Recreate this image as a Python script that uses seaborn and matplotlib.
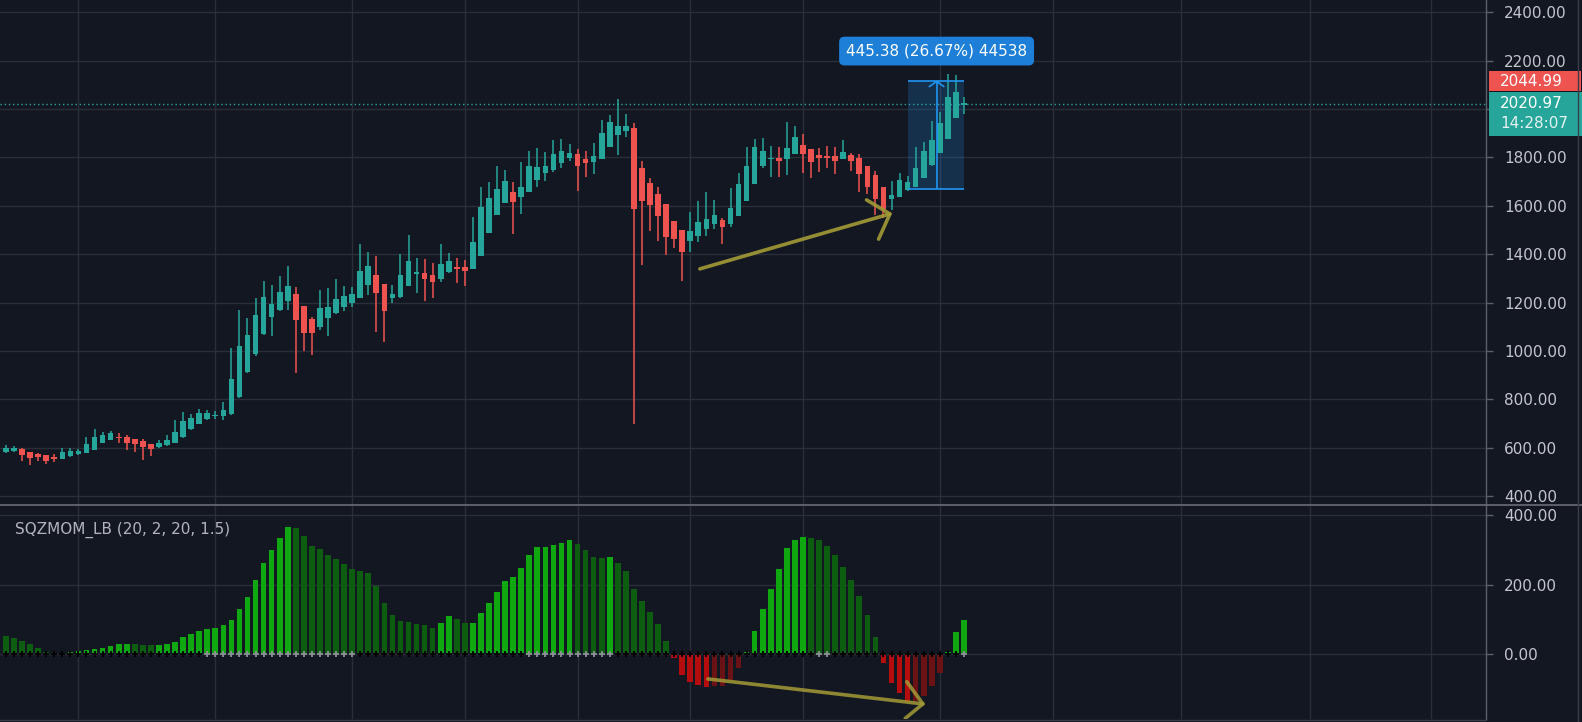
import numpy as np
import pandas as pd
import matplotlib
matplotlib.use("Agg")
import matplotlib.pyplot as plt
from matplotlib.lines import Line2D
from matplotlib.patches import Rectangle
import seaborn as sns

# ---------------- data ----------------
opens = [584, 588, 596, 582, 574, 569, 560, 555, 566, 574, 580, 592, 621, 633, 646, 646, 636, 628, 614, 602,
         611, 621, 643, 676, 698, 717, 731, 731, 739, 811, 912, 986, 1069, 1142, 1169, 1205, 1235, 1184, 1131, 1100,
         1137, 1155, 1183, 1199, 1219, 1274, 1314, 1277, 1220, 1224, 1270, 1319, 1321, 1314, 1296, 1327, 1348, 1345, 1337, 1392,
         1489, 1560, 1613, 1655, 1635, 1657, 1706, 1735, 1748, 1775, 1799, 1812, 1793, 1781, 1794, 1844, 1891, 1910, 1921, 1756,
         1692, 1647, 1606, 1537, 1500, 1456, 1475, 1502, 1525, 1541, 1523, 1558, 1621, 1690, 1766, 1793, 1797, 1792, 1814, 1851,
         1833, 1810, 1805, 1805, 1794, 1810, 1799, 1766, 1726, 1679, 1629, 1635, 1665, 1676, 1716, 1768, 1817, 1876, 1964, 2018]
highs = [610, 607, 600, 584, 578, 570, 574, 597, 597, 595, 643, 679, 664, 669, 659, 651, 636, 637, 614, 632,
         653, 714, 746, 739, 761, 756, 752, 789, 1013, 1169, 1135, 1217, 1290, 1272, 1310, 1351, 1263, 1184, 1139, 1252,
         1259, 1296, 1268, 1263, 1442, 1410, 1392, 1277, 1272, 1400, 1479, 1383, 1378, 1362, 1442, 1403, 1383, 1376, 1552, 1676,
         1697, 1766, 1748, 1697, 1779, 1826, 1837, 1821, 1872, 1876, 1854, 1834, 1826, 1858, 1954, 1975, 2041, 1978, 1940, 1785,
         1716, 1676, 1606, 1537, 1500, 1575, 1620, 1657, 1624, 1551, 1675, 1734, 1844, 1876, 1878, 1848, 1841, 1945, 1929, 1895,
         1833, 1837, 1848, 1841, 1872, 1817, 1812, 1766, 1744, 1679, 1702, 1734, 1724, 1844, 1863, 1950, 1986, 2144, 2140, 2051]
lows = [579, 582, 545, 529, 545, 533, 541, 552, 563, 571, 577, 590, 618, 630, 618, 592, 584, 548, 566, 599,
        608, 618, 642, 673, 697, 714, 717, 714, 735, 805, 910, 980, 1065, 1063, 1165, 1169, 908, 1000, 982, 1086,
        1063, 1151, 1165, 1183, 1219, 1232, 1077, 1036, 1197, 1217, 1270, 1241, 1206, 1219, 1286, 1323, 1282, 1268, 1337, 1392,
        1489, 1560, 1613, 1483, 1566, 1657, 1679, 1704, 1738, 1757, 1785, 1662, 1720, 1730, 1794, 1844, 1808, 1885, 698, 1355,
        1497, 1456, 1396, 1424, 1290, 1410, 1452, 1475, 1502, 1442, 1511, 1558, 1621, 1690, 1757, 1720, 1720, 1726, 1814, 1734,
        1713, 1741, 1757, 1731, 1794, 1745, 1658, 1649, 1560, 1548, 1582, 1635, 1662, 1676, 1716, 1764, 1817, 1876, 1964, 1978]
closes = [600, 597, 570, 556, 560, 547, 555, 582, 588, 588, 614, 646, 651, 659, 641, 619, 615, 602, 593, 618,
          632, 664, 709, 723, 742, 742, 737, 756, 884, 1020, 1066, 1148, 1221, 1194, 1245, 1268, 1128, 1073, 1073, 1176,
          1180, 1213, 1227, 1235, 1332, 1351, 1238, 1165, 1235, 1314, 1373, 1327, 1297, 1286, 1359, 1373, 1337, 1332, 1450, 1593,
          1633, 1669, 1702, 1617, 1679, 1765, 1761, 1765, 1812, 1826, 1816, 1766, 1775, 1807, 1899, 1945, 1929, 1929, 1585, 1621,
          1603, 1558, 1471, 1461, 1410, 1496, 1531, 1546, 1560, 1511, 1592, 1688, 1766, 1841, 1828, 1799, 1786, 1837, 1884, 1814,
          1782, 1799, 1799, 1786, 1821, 1786, 1731, 1679, 1628, 1585, 1644, 1706, 1697, 1757, 1826, 1872, 1940, 2051, 2071, 2020.97]

momentum = [52, 47, 37.5, 28, 16, 7, 4, 2, 5, 9, 12, 15, 17, 23, 29, 30, 29, 27, 25, 26,
            29, 36, 48, 58, 66, 73, 76, 83, 98, 130, 165, 214, 262, 300, 334, 366, 363, 341, 312, 303,
            286, 274, 261, 245, 240, 233, 197, 146, 112, 95, 92, 87, 83, 76, 89, 109, 102, 89, 90, 117,
            146, 178, 210, 223, 249, 287, 309, 310, 315, 321, 328, 317, 299, 280, 277, 280, 264, 239, 188, 152,
            120, 87, 37, -12, -61, -80, -89, -96, -92, -91, -75, -41, 6, 66, 130, 188, 245, 306, 328, 338,
            335, 329, 312, 286, 251, 213, 168, 114, 50, -25, -83, -114, -139, -136, -121, -92, -54, 7, 63, 98]

# bars without squeeze (gray cross); the rest have the squeeze on (black cross)
no_squeeze_ranges = [(25, 43), (65, 75), (101, 102), (119, 119)]

price_ticks = [400, 600, 800, 1000, 1200, 1400, 1600, 1800, 2000, 2200, 2400]
hidden_price_ticks = [2000]   # covered by the last-price label
mom_ticks = [0, 200, 400]
time_grid = [9, 26, 43, 57, 71, 85, 99, 116, 130, 146, 162, 177]

last_price = 2020.97
red_label = "2044.99"
countdown = "14:28:07"
measure_lo, measure_hi = 1671.0, 2116.38
measure_x0, measure_x1 = 112, 119
measure_text = "445.38 (26.67%) 44538"
legend_text = "SQZMOM_LB (20, 2, 20, 1.5)"

price_arrow = [(86.2, 1339), (109.8, 1566)]
price_arrow_head = [(106.9, 1624), (109.8, 1566), (108.4, 1462)]
mom_arrow = [(87.2, -72), (113.9, -144)]
mom_arrow_head = [(111.9, -80), (113.9, -144), (111.7, -186)]

# ---------------- style ----------------
BG = "#131722"
GRID = "#2a2e39"
TEXT = "#c3c6ce"
TEAL = "#26a69a"
RED = "#ef5350"
AXLINE = "#5d606b"

sns.set_theme(style="dark", rc={"axes.facecolor": BG, "figure.facecolor": BG,
                                "savefig.facecolor": BG, "axes.edgecolor": AXLINE})
plt.rcParams["font.family"] = ["DejaVu Sans"]

W, H = 1582, 722
fig = plt.figure(figsize=(W / 100, H / 100), dpi=100)

def fx(x):
    return x / W

def fy(y):
    return 1 - y / H

ax_right = 1486
ax1 = fig.add_axes([0, fy(504.5), fx(ax_right), 504.5 / H])
ax2 = fig.add_axes([0, fy(719), fx(ax_right), (719 - 505.5) / H])

n = len(opens)
idx = np.arange(n)
o = np.array(opens, float); c = np.array(closes, float)
h = np.array(highs, float); l = np.array(lows, float)
up = c >= o
ccol = np.where(up, TEAL, RED)

xlim = (-0.745, 183.85)

# ---------------- price pane ----------------
ax1.vlines(idx, l, h, colors=ccol, lw=1.1, zorder=3)
body_bottom = np.minimum(o, c)
body_h = np.maximum(np.abs(c - o), 5)
ax1.bar(idx, body_h, bottom=body_bottom, width=0.7, color=ccol, linewidth=0, zorder=4)

ax1.axhline(last_price, color=TEAL, lw=1, ls=(0, (1, 2)), zorder=2)

# measurement box
ax1.add_patch(Rectangle((measure_x0, measure_lo), measure_x1 - measure_x0, measure_hi - measure_lo,
                        facecolor="#2196f3", alpha=0.2, edgecolor="none", zorder=2))
ax1.hlines([measure_lo, measure_hi], measure_x0, measure_x1, colors="#2196f3", lw=1.2, zorder=5)
mx = (measure_x0 + measure_x1) / 2 + 0.1
ax1.vlines(mx, measure_lo, measure_hi, colors="#2196f3", lw=1.2, zorder=5)
ax1.plot([mx - 0.9, mx, mx + 0.9], [measure_hi - 24, measure_hi - 3, measure_hi - 24],
         color="#2196f3", lw=1.2, zorder=5)
ax1.text(mx, 2239, measure_text, ha="center", va="center", color="white", fontsize=11, zorder=6,
         bbox=dict(boxstyle="round,pad=0.45,rounding_size=0.35", fc="#1e7fd8", ec="none"))

# yellow arrow
ARW = "#a39b36"
ax1.plot(*zip(*price_arrow), color=ARW, lw=2.6, alpha=0.9, solid_capstyle="round", zorder=6)
ax1.plot(*zip(*price_arrow_head), color=ARW, lw=2.6, alpha=0.9, solid_capstyle="round",
         solid_joinstyle="round", zorder=6)

ax1.set_xlim(*xlim)
ax1.set_ylim(365.3, 2450)
ax1.set_yticks(price_ticks)
ax1.set_yticklabels(["" if t in hidden_price_ticks else f"{t:.2f}" for t in price_ticks])
ax1.set_xticks(time_grid)
ax1.set_xticklabels([])

# ---------------- momentum pane ----------------
vals = np.array(momentum, float)
prev = np.concatenate([[np.inf], vals[:-1]])
cat = np.where(vals >= 0, np.where(vals > prev, "lime", "green"),
               np.where(vals < prev, "red", "maroon"))
pal = {"lime": "#10a810", "green": "#0c5d10", "red": "#b50d0d", "maroon": "#6a1214"}
df = pd.DataFrame({"bar": idx, "mom": vals, "state": cat})
sns.barplot(data=df, x="bar", y="mom", hue="state", palette=pal, native_scale=True,
            width=0.7, dodge=False, legend=False, errorbar=None, saturation=1,
            linewidth=0, ax=ax2, zorder=3)

sq = np.zeros(n, bool)
for a, b in no_squeeze_ranges:
    sq[a:b + 1] = True
ax2.scatter(idx[~sq], np.zeros((~sq).sum()), marker="+", s=22, linewidths=1.3, color="#000000", zorder=5)
ax2.scatter(idx[sq], np.zeros(sq.sum()), marker="+", s=22, linewidths=1.3, color="#8c8f96", zorder=5)

ax2.plot(*zip(*mom_arrow), color=ARW, lw=2.6, alpha=0.85, solid_capstyle="round", zorder=6)
ax2.plot(*zip(*mom_arrow_head), color=ARW, lw=2.6, alpha=0.85, solid_capstyle="round",
         solid_joinstyle="round", zorder=6)

ax2.set_xlim(*xlim)
ax2.set_ylim(-187.6, 428.6)
ax2.set_yticks(mom_ticks)
ax2.set_yticklabels([f"{t:.2f}" for t in mom_ticks])
ax2.set_xticks(time_grid)
ax2.set_xticklabels([])
ax2.set_xlabel(""); ax2.set_ylabel("")

for ax in (ax1, ax2):
    ax.set_facecolor(BG)
    ax.yaxis.tick_right()
    ax.grid(True, color=GRID, lw=1, zorder=0)
    ax.set_axisbelow(True)
    ax.tick_params(axis="y", colors=AXLINE, labelcolor=TEXT, labelsize=11, length=5, width=1,
                   pad=8, right=True, left=False)
    ax.tick_params(axis="x", length=0)
    for s in ("top", "left", "bottom"):
        ax.spines[s].set_visible(False)
    ax.spines["right"].set_color(AXLINE)
    ax.spines["right"].set_linewidth(1)

# pane separator and borders
fig.add_artist(Line2D([0, 1], [fy(505), fy(505)], transform=fig.transFigure, color="#6a6d78", lw=1.2))
fig.add_artist(Line2D([fx(1578), fx(1578)], [0, 1], transform=fig.transFigure, color="#3a3e49", lw=1))
fig.add_artist(Line2D([0, fx(ax_right)], [fy(719.5), fy(719.5)], transform=fig.transFigure, color="#3a3e49", lw=1))

# legend text of the indicator
fig.text(fx(15), fy(530), legend_text, color="#b2b5be", fontsize=11, ha="left", va="center")

# right-side price labels
fig.add_artist(Rectangle((fx(1489), fy(91)), fx(92), 20 / H, transform=fig.transFigure,
                         facecolor=RED, edgecolor="none"))
fig.text(fx(1500), fy(81), red_label, color="white", fontsize=11, ha="left", va="center")
fig.add_artist(Rectangle((fx(1489), fy(136)), fx(93), 44 / H, transform=fig.transFigure,
                         facecolor=TEAL, edgecolor="none"))
fig.text(fx(1500), fy(104), f"{last_price:.2f}", color="white", fontsize=11, ha="left", va="center")
fig.text(fx(1500), fy(124), countdown, color="#e6f2f1", fontsize=11, ha="left", va="center")

fig.savefig("out.png", dpi=100, facecolor=BG)
